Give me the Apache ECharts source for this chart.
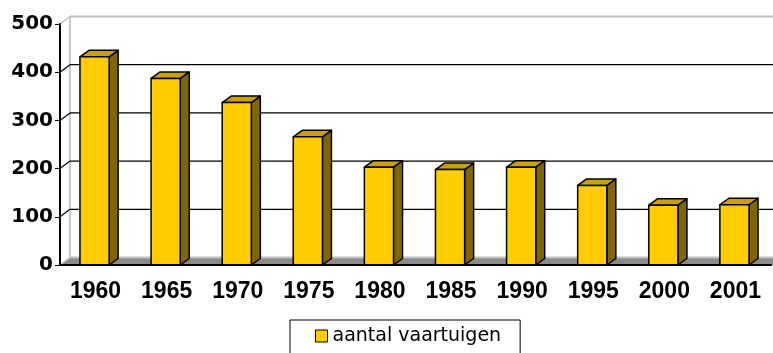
<!DOCTYPE html>
<html>
<head>
<meta charset="utf-8">
<script src="https://cdn.jsdelivr.net/npm/echarts@6/dist/echarts.min.js"></script>
<style>
  html, body { margin: 0; padding: 0; background: #fff; }
  #chart { width: 773px; height: 353px; }
</style>
</head>
<body>
<div id="chart"></div>
<script>
// Aantal vaartuigen per jaar
const years = ['1960', '1965', '1970', '1975', '1980', '1985', '1990', '1995', '2000', '2001'];
const vessels = [432, 387, 337, 266, 203, 198, 203, 165, 124, 125];
const yTicks = [0, 100, 200, 300, 400, 500];
const seriesName = 'aantal vaartuigen';

// depth offsets for the pseudo-3D walls and columns
const WALL_DX = 10, WALL_DY = 7.5;
const BAR_DX = 9, BAR_DY = 6.5;

const yMax = yTicks[yTicks.length - 1];
const chart = echarts.init(document.getElementById('chart'), null, { renderer: 'canvas' });

function renderWall(params, api) {
  const cs = params.coordSys;
  const v = api.value(0);
  const y = api.coord([0, v])[1];
  const x0 = cs.x, x1 = cs.x + cs.width;
  const isEdge = (v === 0 || v === yMax);
  const color = isEdge ? '#c0c0c0' : '#000';
  const children = [];
  if (v === 0) {
    // floor
    children.push({
      type: 'polygon',
      shape: { points: [[x0, y], [x1 + 2, y], [x1 + 2 + WALL_DX, y - WALL_DY], [x0 + WALL_DX, y - WALL_DY]] },
      style: { fill: '#8a8a8a' }
    });
    // left edge of the back wall
    const yTop = api.coord([0, yMax])[1];
    children.push({
      type: 'line',
      shape: { x1: x0 + WALL_DX, y1: yTop - WALL_DY, x2: x0 + WALL_DX, y2: y - WALL_DY },
      style: { stroke: '#c8c8c8', lineWidth: 2 }
    });
  }
  // gridline on the side wall
  children.push({
    type: 'line',
    shape: { x1: x0, y1: y, x2: x0 + WALL_DX, y2: y - WALL_DY },
    style: { stroke: color, lineWidth: isEdge ? 1.5 : 1.2 }
  });
  // gridline on the back wall
  children.push({
    type: 'line',
    shape: { x1: x0 + WALL_DX, y1: y - WALL_DY, x2: x1 + 2 + WALL_DX, y2: y - WALL_DY },
    style: { stroke: color, lineWidth: isEdge ? 2 : 1.2 }
  });
  return { type: 'group', children };
}

function renderColumn(params, api) {
  const idx = api.value(0);
  const val = api.value(1);
  const top = api.coord([idx, val]);
  const base = api.coord([idx, 0]);
  const band = api.size([1, 0])[0];
  const w = band * 0.41;
  const cx = top[0] - 1;
  const xl = cx - w / 2, xr = cx + w / 2;
  const yt = top[1], yb = base[1];
  const stroke = { stroke: '#000', lineWidth: 1.5, lineJoin: 'round' };
  return {
    type: 'group',
    children: [
      { type: 'polygon', shape: { points: [[xr, yt], [xr + BAR_DX, yt - BAR_DY], [xr + BAR_DX, yb - BAR_DY], [xr, yb]] },
        style: Object.assign({ fill: '#806600' }, stroke) },
      { type: 'polygon', shape: { points: [[xl, yt], [xl + BAR_DX, yt - BAR_DY], [xr + BAR_DX, yt - BAR_DY], [xr, yt]] },
        style: Object.assign({ fill: '#C9A100' }, stroke) },
      { type: 'polygon', shape: { points: [[xl, yt], [xr, yt], [xr, yb], [xl, yb]] },
        style: Object.assign({ fill: '#FFCC00' }, stroke) }
    ]
  };
}

chart.setOption({
  animation: false,
  backgroundColor: '#fff',
  grid: { left: 60, right: 2, top: 24, bottom: 88 },
  xAxis: {
    type: 'category',
    data: years,
    z: 10,
    axisLine: { lineStyle: { color: '#000', width: 2 } },
    axisTick: { length: 5, lineStyle: { color: '#000', width: 1 } },
    axisLabel: {
      interval: 0, color: '#000', fontFamily: 'Liberation Sans',
      fontWeight: 'bold', fontSize: 23, margin: 15
    }
  },
  yAxis: {
    type: 'value',
    min: 0, max: yMax, interval: 100,
    z: 10,
    axisLine: { show: true, lineStyle: { color: '#000', width: 2 } },
    axisTick: { show: true, length: 5, lineStyle: { color: '#000', width: 1 } },
    splitLine: { show: false },
    axisLabel: {
      color: '#000', fontFamily: 'DejaVu Sans', fontWeight: 'bold',
      fontSize: 20, margin: 7
    }
  },
  legend: {
    data: [{ name: seriesName, icon: 'rect',
             itemStyle: { color: '#FFCC00', borderColor: '#000', borderWidth: 1 } }],
    left: 290, top: 320,
    padding: [6, 19, 20, 25],
    itemWidth: 12, itemHeight: 12,
    borderColor: '#000', borderWidth: 1,
    selectedMode: false,
    textStyle: { fontFamily: 'DejaVu Sans', fontSize: 19, color: '#000', lineHeight: 20 }
  },
  series: [
    {
      name: 'wand',
      type: 'custom',
      z: 1,
      silent: true,
      renderItem: renderWall,
      data: yTicks.map(v => [v])
    },
    {
      name: seriesName,
      type: 'custom',
      z: 3,
      itemStyle: { color: '#FFCC00' },
      renderItem: renderColumn,
      encode: { x: 0, y: 1 },
      data: vessels.map((v, i) => [i, v])
    }
  ]
});
</script>
</body>
</html>
